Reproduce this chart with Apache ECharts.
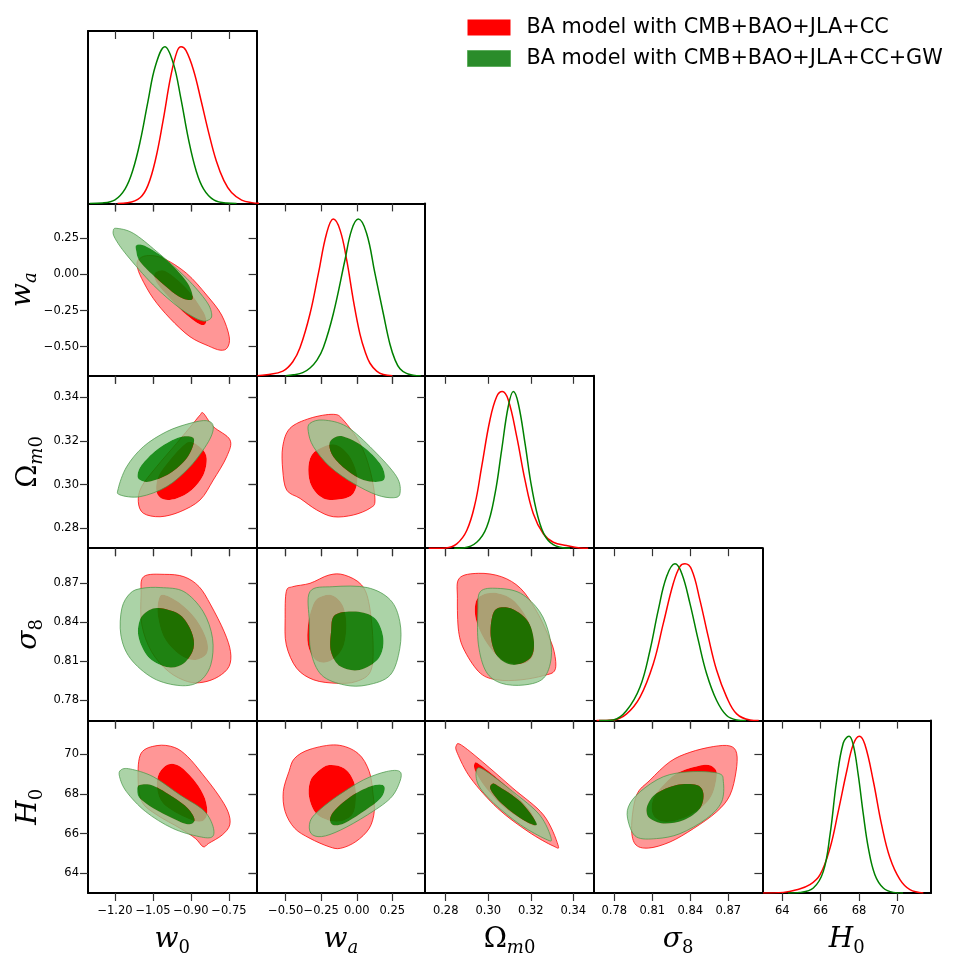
<!DOCTYPE html>
<html lang="en">
<head>
<meta charset="UTF-8">
<title>BA model triangle plot</title>
<script src="https://cdn.jsdelivr.net/npm/echarts@6/dist/echarts.min.js"></script>
<style>html,body{margin:0;padding:0;background:#fff;}</style>
</head>
<body>
<div id="main" style="width:963px;height:965px;"></div>
<script type="text/javascript">

// ---- parameters, axis limits, ticks ----
var paramNames = ['{i|w}{s|0}', '{i|w}{si|a}', '{u|\u03A9}{si|m}{s|0}', '{i|\u03C3}{s|8}', '{i|H}{s|0}'];
var xRange = [[-1.3066, -0.641], [-0.7048, 0.4815], [0.27036, 0.34964], [0.76382, 0.89692], [62.962, 71.758]];
var yRange = [[-1.3066, -0.641], [-0.7013, 0.4915], [0.27089, 0.34985], [0.76411, 0.89707], [63.007, 71.699]];
var w0Ticks = [-1.20, -1.05, -0.90, -0.75];
var waTicks = [-0.50, -0.25, 0.00, 0.25];
var OmTicks = [0.28, 0.30, 0.32, 0.34];
var s8Ticks = [0.78, 0.81, 0.84, 0.87];
var H0Ticks = [64, 66, 68, 70];
var tickDigits = [2, 2, 2, 2, 0];

var redName = 'BA model with CMB+BAO+JLA+CC';
var greenName = 'BA model with CMB+BAO+JLA+CC+GW';

// ---- 1D marginals (normalised to peak) ----
var w0_red1d = [[-1.19,0],[-1.15,0.004],[-1.10,0.038],[-1.07,0.115],[-1.04,0.28],[-1.01,0.53],[-0.98,0.81],[-0.955,0.97],[-0.939,1.0],[-0.92,0.976],[-0.89,0.85],[-0.86,0.655],[-0.83,0.45],[-0.80,0.27],[-0.77,0.145],[-0.74,0.069],[-0.70,0.021],[-0.66,0.005],[-0.62,0]];
var w0_green1d = [[-1.30,0],[-1.25,0.003],[-1.20,0.023],[-1.16,0.093],[-1.13,0.21],[-1.10,0.40],[-1.07,0.65],[-1.04,0.88],[-1.003,1.0],[-0.97,0.895],[-0.94,0.67],[-0.91,0.41],[-0.88,0.21],[-0.85,0.091],[-0.81,0.022],[-0.76,0.002],[-0.72,0]];
var wa_red1d = [[-0.70,0],[-0.634,0.006],[-0.52,0.03],[-0.45,0.09],[-0.399,0.18],[-0.329,0.396],[-0.270,0.653],[-0.212,0.91],[-0.165,1.0],[-0.118,0.931],[-0.071,0.739],[-0.024,0.482],[0.022,0.268],[0.06,0.15],[0.093,0.08],[0.14,0.03],[0.187,0.008],[0.25,0]];
var wa_green1d = [[-0.50,0],[-0.446,0.006],[-0.38,0.02],[-0.329,0.05],[-0.28,0.10],[-0.235,0.18],[-0.165,0.396],[-0.083,0.739],[-0.036,0.931],[0.011,1.0],[0.069,0.91],[0.128,0.653],[0.187,0.396],[0.233,0.203],[0.27,0.10],[0.304,0.045],[0.35,0.015],[0.397,0.004],[0.45,0]];
var Om_red1d = [[0.272,0],[0.28,0.002],[0.2852,0.028],[0.2899,0.113],[0.2938,0.284],[0.2969,0.519],[0.3008,0.818],[0.3040,0.968],[0.3066,1.0],[0.3094,0.947],[0.3134,0.712],[0.3173,0.434],[0.3212,0.220],[0.3259,0.092],[0.3306,0.038],[0.3368,0.017],[0.3431,0.002],[0.347,0]];
var Om_green1d = [[0.284,0],[0.2883,0.002],[0.2946,0.038],[0.2993,0.135],[0.3032,0.348],[0.3063,0.626],[0.3094,0.904],[0.3118,1.0],[0.3141,0.925],[0.3173,0.669],[0.3204,0.391],[0.3243,0.156],[0.3282,0.049],[0.3337,0.006],[0.3384,0]];
var s8_red1d = [[0.766,0],[0.7792,0.004],[0.7897,0.043],[0.8003,0.15],[0.8108,0.363],[0.8187,0.62],[0.8266,0.876],[0.8318,0.983],[0.8358,1.0],[0.8411,0.962],[0.8476,0.769],[0.8542,0.534],[0.8608,0.321],[0.8687,0.15],[0.8766,0.043],[0.8871,0.004],[0.894,0]];
var s8_green1d = [[0.768,0],[0.7792,0.004],[0.7897,0.064],[0.8003,0.214],[0.8082,0.449],[0.8147,0.705],[0.8213,0.919],[0.8279,1.0],[0.8332,0.94],[0.8397,0.748],[0.8463,0.513],[0.8529,0.299],[0.8608,0.128],[0.8687,0.032],[0.8766,0.004],[0.884,0]];
var H0_red1d = [[63.0,0],[64.05,0.004],[64.75,0.021],[65.44,0.053],[65.97,0.117],[66.49,0.287],[66.92,0.521],[67.36,0.777],[67.70,0.947],[68.02,1.0],[68.31,0.947],[68.75,0.713],[69.18,0.436],[69.62,0.223],[70.14,0.085],[70.66,0.021],[71.36,0]];
var H0_green1d = [[64.3,0],[64.92,0.004],[65.62,0.032],[66.14,0.138],[66.49,0.372],[66.83,0.713],[67.18,0.957],[67.48,1.0],[67.70,0.947],[67.96,0.755],[68.23,0.5],[68.49,0.287],[68.83,0.117],[69.27,0.032],[69.79,0.004],[70.3,0]];

// ---- 2D contours (95% and 68%) ----
var w0_wa_red95 = [[-1.108,0.100],[-1.075,0.130],[-1.009,0.111],[-0.917,0.007],[-0.838,-0.143],[-0.779,-0.281],[-0.749,-0.431],[-0.757,-0.508],[-0.785,-0.524],[-0.832,-0.494],[-0.904,-0.431],[-0.983,-0.304],[-1.049,-0.166],[-1.095,-0.027],[-1.112,0.054]];
var w0_wa_red68 = [[-1.036,0.019],[-0.996,0.019],[-0.917,-0.097],[-0.851,-0.258],[-0.841,-0.334],[-0.864,-0.346],[-0.917,-0.281],[-0.983,-0.166],[-1.029,-0.073],[-1.045,-0.016]];
var w0_wa_green95 = [[-1.207,0.301],[-1.193,0.319],[-1.128,0.285],[-1.035,0.158],[-0.917,-0.027],[-0.838,-0.189],[-0.818,-0.281],[-0.832,-0.316],[-0.865,-0.316],[-0.943,-0.235],[-1.049,-0.073],[-1.154,0.135],[-1.200,0.250]];
var w0_wa_green68 = [[-1.117,0.169],[-1.114,0.204],[-1.075,0.192],[-0.996,0.100],[-0.917,-0.050],[-0.893,-0.154],[-0.910,-0.177],[-0.957,-0.143],[-1.036,-0.027],[-1.101,0.088]];

var w0_Om_red95 = [[-0.851,0.3327],[-0.812,0.3266],[-0.746,0.3205],[-0.759,0.3128],[-0.812,0.3021],[-0.864,0.2930],[-0.943,0.2876],[-1.022,0.2853],[-1.088,0.2869],[-1.108,0.2922],[-1.095,0.2991],[-1.036,0.3082],[-0.957,0.3189],[-0.891,0.3281],[-0.864,0.3319]];
var w0_Om_red68 = [[-0.904,0.3197],[-0.858,0.3166],[-0.838,0.3121],[-0.851,0.3044],[-0.897,0.2976],[-0.957,0.2937],[-1.009,0.2933],[-1.036,0.2968],[-1.029,0.3037],[-0.989,0.3105],[-0.943,0.3166]];
var w0_Om_green95 = [[-1.187,0.2983],[-1.180,0.2953],[-1.101,0.2945],[-0.996,0.2991],[-0.904,0.3082],[-0.831,0.3197],[-0.812,0.3266],[-0.838,0.3293],[-0.904,0.3281],[-0.996,0.3243],[-1.088,0.3174],[-1.154,0.3082]];
var w0_Om_green68 = [[-1.101,0.3021],[-1.062,0.3014],[-0.983,0.3052],[-0.917,0.3121],[-0.888,0.3197],[-0.904,0.3220],[-0.957,0.3212],[-1.036,0.3159],[-1.095,0.3090],[-1.111,0.3044]];

var wa_Om_red95 = [[-0.521,0.3174],[-0.470,0.3258],[-0.329,0.3304],[-0.165,0.3322],[-0.095,0.3296],[0.0225,0.3189],[0.093,0.3067],[0.128,0.2930],[0.093,0.2892],[-0.024,0.2861],[-0.165,0.2853],[-0.282,0.2884],[-0.399,0.2937],[-0.493,0.2975],[-0.521,0.3067]];
var wa_Om_red68 = [[-0.317,0.3136],[-0.235,0.3174],[-0.141,0.3182],[-0.048,0.3128],[0.004,0.3037],[-0.024,0.2960],[-0.118,0.2933],[-0.235,0.2937],[-0.317,0.2991],[-0.341,0.3067]];
var wa_Om_green95 = [[-0.329,0.3281],[-0.235,0.3296],[-0.071,0.3266],[0.116,0.3159],[0.280,0.3037],[0.304,0.2960],[0.257,0.2940],[0.140,0.2953],[-0.024,0.3006],[-0.188,0.3082],[-0.305,0.3174],[-0.341,0.3243]];
var wa_Om_green68 = [[-0.165,0.3212],[-0.095,0.3220],[0.046,0.3174],[0.163,0.3098],[0.198,0.3037],[0.163,0.3014],[0.046,0.3021],[-0.071,0.3067],[-0.165,0.3128],[-0.193,0.3182]];

var w0_s8_red95 = [[-1.087,0.8751],[-1.004,0.8769],[-0.928,0.8751],[-0.868,0.8674],[-0.822,0.8533],[-0.769,0.8327],[-0.744,0.8173],[-0.750,0.8058],[-0.792,0.7980],[-0.852,0.7937],[-0.913,0.7942],[-0.988,0.8019],[-1.056,0.8173],[-1.094,0.8379],[-1.097,0.8610]];
var w0_s8_red68 = [[-1.004,0.8610],[-0.943,0.8546],[-0.883,0.8430],[-0.840,0.8276],[-0.837,0.8160],[-0.883,0.8109],[-0.943,0.8147],[-1.004,0.8276],[-1.031,0.8456],[-1.026,0.8584]];
var w0_s8_green95 = [[-1.094,0.8661],[-1.019,0.8667],[-0.928,0.8636],[-0.852,0.8482],[-0.815,0.8276],[-0.822,0.8071],[-0.868,0.7942],[-0.943,0.7911],[-1.049,0.7968],[-1.140,0.8122],[-1.177,0.8302],[-1.173,0.8507],[-1.140,0.8623]];
var w0_s8_green68 = [[-1.019,0.8507],[-0.943,0.8456],[-0.898,0.8327],[-0.890,0.8199],[-0.928,0.8083],[-0.988,0.8052],[-1.064,0.8122],[-1.106,0.8276],[-1.102,0.8417],[-1.064,0.8494]];

var wa_s8_red95 = [[-0.450,0.8674],[-0.329,0.8700],[-0.195,0.8764],[-0.087,0.8764],[0.034,0.8687],[0.088,0.8533],[0.115,0.8225],[0.096,0.8019],[-0.006,0.7942],[-0.141,0.7929],[-0.302,0.7955],[-0.423,0.8045],[-0.496,0.8225],[-0.504,0.8430],[-0.496,0.8636]];
var wa_s8_red68 = [[-0.275,0.8584],[-0.181,0.8610],[-0.100,0.8533],[-0.073,0.8379],[-0.100,0.8199],[-0.195,0.8096],[-0.289,0.8109],[-0.343,0.8225],[-0.343,0.8379],[-0.316,0.8507]];
var wa_s8_green95 = [[-0.329,0.8636],[-0.168,0.8674],[0.074,0.8667],[0.236,0.8572],[0.303,0.8404],[0.303,0.8199],[0.236,0.7993],[0.074,0.7916],[-0.087,0.7916],[-0.248,0.7993],[-0.323,0.8173],[-0.334,0.8404]];
var wa_s8_green68 = [[-0.154,0.8456],[-0.006,0.8482],[0.128,0.8430],[0.187,0.8276],[0.155,0.8122],[0.020,0.8032],[-0.114,0.8058],[-0.181,0.8173],[-0.181,0.8327]];

var Om_s8_red95 = [[0.2864,0.8739],[0.2954,0.8777],[0.3062,0.8751],[0.3152,0.8661],[0.3224,0.8494],[0.3278,0.8314],[0.3310,0.8173],[0.3314,0.8032],[0.3260,0.7988],[0.3152,0.7955],[0.3044,0.7955],[0.2963,0.8006],[0.2891,0.8173],[0.2861,0.8327],[0.2855,0.8584]];
var Om_s8_red68 = [[0.2972,0.8610],[0.3044,0.8623],[0.3125,0.8559],[0.3197,0.8379],[0.3215,0.8173],[0.3170,0.8083],[0.3080,0.8096],[0.2999,0.8225],[0.2945,0.8404],[0.2940,0.8546]];
var Om_s8_green95 = [[0.2963,0.8636],[0.3044,0.8661],[0.3152,0.8623],[0.3242,0.8482],[0.3287,0.8302],[0.3296,0.8122],[0.3260,0.7968],[0.3170,0.7916],[0.3062,0.7929],[0.2990,0.8019],[0.2954,0.8225],[0.2951,0.8482]];
var Om_s8_green68 = [[0.3044,0.8507],[0.3116,0.8500],[0.3188,0.8404],[0.3215,0.8250],[0.3197,0.8122],[0.3116,0.8071],[0.3044,0.8135],[0.3013,0.8276],[0.3017,0.8430]];

var w0_H0_red95 = [[-1.097,70.05],[-1.034,70.44],[-0.966,70.35],[-0.913,69.88],[-0.852,68.96],[-0.792,67.95],[-0.754,67.11],[-0.747,66.44],[-0.777,65.93],[-0.830,65.51],[-0.852,65.34],[-0.883,65.76],[-0.943,66.27],[-1.034,66.94],[-1.094,67.61],[-1.109,68.79]];
var w0_H0_red68 = [[-1.026,69.04],[-0.988,69.50],[-0.943,69.38],[-0.883,68.62],[-0.845,67.78],[-0.837,66.94],[-0.868,66.60],[-0.943,66.94],[-1.011,67.53],[-1.034,68.29]];
var w0_H0_green95 = [[-1.177,69.21],[-1.140,69.26],[-1.049,68.87],[-0.943,67.95],[-0.852,67.19],[-0.815,66.44],[-0.815,65.85],[-0.868,65.85],[-0.973,66.27],[-1.079,67.11],[-1.155,68.12],[-1.182,68.87]];
var w0_H0_green68 = [[-1.102,68.45],[-1.049,68.42],[-0.973,67.86],[-0.913,67.28],[-0.886,66.69],[-0.913,66.47],[-0.973,66.77],[-1.049,67.28],[-1.102,67.78],[-1.112,68.20]];

var wa_H0_red95 = [[-0.437,69.80],[-0.329,70.25],[-0.141,70.47],[0.008,70.05],[0.088,69.13],[0.115,67.95],[0.123,67.11],[0.088,66.27],[-0.006,65.60],[-0.114,65.26],[-0.195,65.34],[-0.329,65.76],[-0.437,66.27],[-0.504,67.11],[-0.517,68.12],[-0.477,69.13]];
var wa_H0_red68 = [[-0.275,69.13],[-0.195,69.46],[-0.087,69.29],[-0.020,68.62],[-0.006,67.78],[-0.033,66.94],[-0.141,66.60],[-0.275,66.94],[-0.334,67.78],[-0.329,68.62]];
var wa_H0_green95 = [[-0.329,66.60],[-0.275,67.11],[-0.141,67.87],[0.047,68.71],[0.209,69.13],[0.303,69.13],[0.303,68.62],[0.236,67.78],[0.074,66.94],[-0.114,66.18],[-0.248,65.85],[-0.323,66.02]];
var wa_H0_green68 = [[-0.187,66.77],[-0.141,67.28],[-0.006,68.03],[0.128,68.45],[0.195,68.37],[0.168,67.78],[0.047,67.11],[-0.087,66.52],[-0.168,66.44]];

var Om_H0_red95 = [[0.2850,70.44],[0.2873,70.47],[0.2972,69.63],[0.3116,68.29],[0.3260,66.94],[0.3328,65.43],[0.3305,65.38],[0.3188,66.10],[0.3044,67.28],[0.2918,68.79],[0.2855,70.05]];
var Om_H0_red68 = [[0.2936,69.55],[0.2963,69.46],[0.3080,68.45],[0.3188,67.28],[0.3224,66.52],[0.3197,66.47],[0.3080,67.28],[0.2990,68.29],[0.2940,69.13]];
var Om_H0_green95 = [[0.2945,69.21],[0.2981,69.21],[0.3116,68.12],[0.3242,66.94],[0.3296,65.76],[0.3269,65.73],[0.3152,66.44],[0.3026,67.53],[0.2954,68.45]];
var Om_H0_green68 = [[0.3017,68.49],[0.3044,68.42],[0.3152,67.61],[0.3224,66.60],[0.3215,66.44],[0.3152,66.77],[0.3062,67.53],[0.3012,68.20]];

var s8_H0_red95 = [[0.7976,67.94],[0.8082,68.70],[0.8240,69.63],[0.8397,70.10],[0.8582,70.39],[0.8713,70.42],[0.8766,70.05],[0.8761,69.12],[0.8713,67.94],[0.8608,67.10],[0.8424,66.25],[0.8240,65.58],[0.8068,65.27],[0.7963,65.49],[0.7937,66.42]];
var s8_H0_red68 = [[0.8213,68.62],[0.8319,69.12],[0.8503,69.46],[0.8587,69.32],[0.8608,68.87],[0.8555,67.77],[0.8397,66.93],[0.8213,66.59],[0.8108,66.93],[0.8108,67.77]];
var s8_H0_green95 = [[0.7911,67.35],[0.8003,68.11],[0.8187,68.87],[0.8397,69.12],[0.8621,69.04],[0.8661,68.62],[0.8647,67.60],[0.8529,66.76],[0.8319,66.00],[0.8134,65.75],[0.7976,65.83],[0.7911,66.59]];
var s8_H0_green68 = [[0.8068,67.52],[0.8134,68.03],[0.8292,68.45],[0.8450,68.45],[0.8503,68.03],[0.8476,67.27],[0.8345,66.67],[0.8187,66.51],[0.8082,66.76],[0.8055,67.10]];

// ---- assemble ----
var ticks = [w0Ticks, waTicks, OmTicks, s8Ticks, H0Ticks];
var marg = [
    [w0_red1d, w0_green1d], [wa_red1d, wa_green1d], [Om_red1d, Om_green1d],
    [s8_red1d, s8_green1d], [H0_red1d, H0_green1d]
];
var panels2d = [
    {r: 1, c: 0, red: [w0_wa_red95, w0_wa_red68], green: [w0_wa_green95, w0_wa_green68]},
    {r: 2, c: 0, red: [w0_Om_red95, w0_Om_red68], green: [w0_Om_green95, w0_Om_green68]},
    {r: 2, c: 1, red: [wa_Om_red95, wa_Om_red68], green: [wa_Om_green95, wa_Om_green68]},
    {r: 3, c: 0, red: [w0_s8_red95, w0_s8_red68], green: [w0_s8_green95, w0_s8_green68]},
    {r: 3, c: 1, red: [wa_s8_red95, wa_s8_red68], green: [wa_s8_green95, wa_s8_green68]},
    {r: 3, c: 2, red: [Om_s8_red95, Om_s8_red68], green: [Om_s8_green95, Om_s8_green68]},
    {r: 4, c: 0, red: [w0_H0_red95, w0_H0_red68], green: [w0_H0_green95, w0_H0_green68]},
    {r: 4, c: 1, red: [wa_H0_red95, wa_H0_red68], green: [wa_H0_green95, wa_H0_green68]},
    {r: 4, c: 2, red: [Om_H0_red95, Om_H0_red68], green: [Om_H0_green95, Om_H0_green68]},
    {r: 4, c: 3, red: [s8_H0_red95, s8_H0_red68], green: [s8_H0_green95, s8_H0_green68]}
];

// band (95% minus 68%), inner (68%), outline of 95%
var redLook = {band: 'rgb(255,150,150)', inner: '#ff0000', edge: 'rgba(255,0,0,0.85)', edgeWidth: 0.9};
var greenLook = {band: 'rgba(150,200,145,0.8)', inner: 'rgba(0,128,0,0.88)', edge: 'rgba(70,150,70,0.8)', edgeWidth: 0.9};

var nameRich = {
    i: {fontFamily: 'DejaVu Serif', fontStyle: 'italic', fontSize: 28, color: '#000'},
    u: {fontFamily: 'DejaVu Serif', fontSize: 28, color: '#000'},
    s: {fontFamily: 'DejaVu Serif', fontSize: 18, color: '#000', padding: [16, 0, 0, 0]},
    si: {fontFamily: 'DejaVu Serif', fontStyle: 'italic', fontSize: 18, color: '#000', padding: [16, 0, 0, 0]}
};

function fmt(d) {
    return function (v) { return Number(v).toFixed(d).replace('-', '\u2212'); };
}

// closed smooth ring (Catmull-Rom -> cubic Bezier) through pixel points
function signedArea(p) {
    var a = 0;
    for (var i = 0; i < p.length; i++) {
        var q = p[(i + 1) % p.length];
        a += p[i][0] * q[1] - q[0] * p[i][1];
    }
    return a / 2;
}
function ringPath(p) {
    var n = p.length;
    var d = 'M' + p[0][0].toFixed(2) + ',' + p[0][1].toFixed(2);
    for (var i = 0; i < n; i++) {
        var p0 = p[(i - 1 + n) % n], p1 = p[i], p2 = p[(i + 1) % n], p3 = p[(i + 2) % n];
        var c1x = p1[0] + (p2[0] - p0[0]) / 6, c1y = p1[1] + (p2[1] - p0[1]) / 6;
        var c2x = p2[0] - (p3[0] - p1[0]) / 6, c2y = p2[1] - (p3[1] - p1[1]) / 6;
        d += 'C' + c1x.toFixed(2) + ',' + c1y.toFixed(2) + ' ' + c2x.toFixed(2) + ',' + c2y.toFixed(2) +
            ' ' + p2[0].toFixed(2) + ',' + p2[1].toFixed(2);
    }
    return d + 'Z';
}

var grids = [], xAxes = [], yAxes = [], series = [];
var frame = {show: true, onZero: false, lineStyle: {color: '#000', width: 2}};
var tickStyle = {color: '#333', width: 1.2};
var labelFont = {fontSize: 11.5, color: '#000', fontFamily: 'DejaVu Sans'};

function addGrid(r, c) {
    var g = grids.length;
    var diag = (r === c);
    grids.push({left: 88 + c * 168.6, top: 31 + r * 172.4, width: 168.6, height: 172.4});
    var bottomRow = (r === 4);
    ['bottom', 'top'].forEach(function (pos) {
        var main = pos === 'bottom';
        xAxes.push({
            type: 'value', gridIndex: g, position: pos,
            min: xRange[c][0], max: xRange[c][1],
            axisLine: frame,
            axisTick: {show: true, inside: !main, length: 8, customValues: ticks[c], lineStyle: tickStyle},
            axisLabel: Object.assign({show: main && bottomRow, customValues: ticks[c], formatter: fmt(tickDigits[c]),
                margin: 12, hideOverlap: false}, labelFont),
            splitLine: {show: false},
            name: (main && bottomRow) ? paramNames[c] : '',
            nameLocation: 'middle', nameGap: 30,
            nameTextStyle: {rich: nameRich}
        });
    });
    ['left', 'right'].forEach(function (pos) {
        var main = pos === 'left';
        var ax = {
            type: 'value', gridIndex: g, position: pos,
            axisLine: frame, splitLine: {show: false}
        };
        if (diag) {
            ax.min = 0; ax.max = 1.1;
            ax.axisTick = {show: false};
            ax.axisLabel = {show: false};
        } else {
            ax.min = yRange[r][0]; ax.max = yRange[r][1];
            ax.axisTick = {show: true, inside: !main, length: 8, customValues: ticks[r], lineStyle: tickStyle};
            ax.axisLabel = Object.assign({show: main && c === 0, customValues: ticks[r], formatter: fmt(tickDigits[r]),
                margin: 9, hideOverlap: false}, labelFont);
            if (main && c === 0) {
                ax.name = paramNames[r];
                ax.nameLocation = 'middle';
                ax.nameGap = 42;
                ax.nameTextStyle = {rich: nameRich};
            }
        }
        yAxes.push(ax);
    });
    return g;
}

function contourSeries(g, name, polys, look, color) {
    return {
        type: 'custom', name: name, coordinateSystem: 'cartesian2d',
        xAxisIndex: 2 * g, yAxisIndex: 2 * g, clip: true, silent: true,
        itemStyle: {color: color},
        encode: {x: 0, y: 1},
        data: [[polys[0][0][0], polys[0][0][1]]],
        renderItem: function (params, api) {
            var outer = polys[0].map(function (p) { return api.coord(p); });
            var inner = polys[1].map(function (p) { return api.coord(p); });
            var innerRev = (signedArea(outer) * signedArea(inner) > 0) ? inner.slice().reverse() : inner;
            return {
                type: 'group',
                children: [
                    {type: 'path', shape: {pathData: ringPath(outer) + ringPath(innerRev)},
                        style: {fill: look.band, stroke: null}},
                    {type: 'path', shape: {pathData: ringPath(inner)},
                        style: {fill: look.inner, stroke: null}},
                    {type: 'path', shape: {pathData: ringPath(outer)},
                        style: {fill: null, stroke: look.edge, lineWidth: look.edgeWidth}}
                ]
            };
        }
    };
}

// diagonal 1D panels
for (var d = 0; d < 5; d++) {
    var g = addGrid(d, d);
    [[redName, '#ff0000', marg[d][0]], [greenName, '#008000', marg[d][1]]].forEach(function (s) {
        series.push({
            type: 'line', name: s[0], xAxisIndex: 2 * g, yAxisIndex: 2 * g,
            data: s[2], smooth: 0.4, showSymbol: false, silent: true,
            lineStyle: {color: s[1], width: 1.5}, itemStyle: {color: s[1]}
        });
    });
}
// lower-triangle 2D panels
panels2d.forEach(function (p) {
    var g = addGrid(p.r, p.c);
    series.push(contourSeries(g, redName, p.red, redLook, '#ff0000'));
    series.push(contourSeries(g, greenName, p.green, greenLook, '#2a8c2a'));
});

var myChart = echarts.init(document.getElementById('main'));
var option = {
    backgroundColor: '#fff',
    animation: false,
    legend: {
        orient: 'vertical', left: 467, top: 17, padding: 0,
        itemWidth: 43, itemHeight: 16, itemGap: 10, icon: 'rect',
        selectedMode: false,
        textStyle: {fontSize: 20.8, fontFamily: 'DejaVu Sans', color: '#000', padding: [0, 0, 0, 11]},
        data: [
            {name: redName, itemStyle: {color: '#ff0000'}},
            {name: greenName, itemStyle: {color: '#2a8c2a', borderColor: '#5fae5f', borderWidth: 1}}
        ]
    },
    grid: grids,
    xAxis: xAxes,
    yAxis: yAxes,
    series: series
};
myChart.setOption(option);
</script>
</body>
</html>
